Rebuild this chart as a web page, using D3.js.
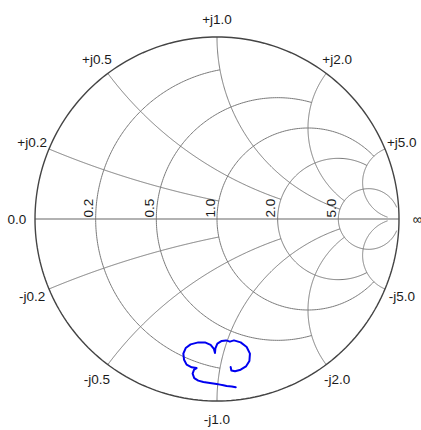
<!DOCTYPE html>
<html>
<head>
<meta charset="utf-8">
<script src="https://cdn.jsdelivr.net/npm/d3@7"></script>
<style>
body { margin: 0; background: #fff; }
svg { display: block; font-family: "Liberation Sans", Arial, sans-serif; }
</style>
</head>
<body>
<svg id="chart"></svg>
<script>
'use strict';

// grid values and the value of the other family where each one is clipped
var gridValues = [0.2, 0.5, 1.0, 2.0, 5.0];
var gridLimits = [1, 2, 5, 5, 30];
var resLabels = ['0.2', '0.5', '1.0', '2.0', '5.0'];
var posLabels = ['+j0.2', '+j0.5', '+j1.0', '+j2.0', '+j5.0'];
var negLabels = ['-j0.2', '-j0.5', '-j1.0', '-j2.0', '-j5.0'];
var axisLabels = ['0.0', '\u221e'];

// measured reflection coefficient (real / imaginary parts)
var gammaRe = [0.103, 0.081, 0.053, 0.035, 0.017, -0.002, -0.039, -0.075, -0.103, -0.125,
    -0.134, -0.126, -0.112, -0.139, -0.167, -0.181, -0.185, -0.172, -0.145, -0.103,
    -0.066, -0.035, -0.017, -0.011, -0.009, 0.002, 0.026, 0.050, 0.071, 0.093,
    0.130, 0.163, 0.181, 0.178, 0.159, 0.130, 0.099, 0.079, 0.075];
var gammaIm = [-0.925, -0.920, -0.918, -0.914, -0.910, -0.907, -0.901, -0.896, -0.888, -0.874,
    -0.850, -0.828, -0.819, -0.815, -0.800, -0.773, -0.740, -0.709, -0.689, -0.678,
    -0.678, -0.692, -0.714, -0.736, -0.711, -0.685, -0.670, -0.667, -0.674, -0.667,
    -0.678, -0.703, -0.740, -0.780, -0.810, -0.828, -0.837, -0.832, -0.813];

function render() {
    var w = 421;
    var h = 430;
    var cx = 217;
    var cy = 219;
    var R = 182;

    var x = d3.scaleLinear().domain([-1, 1]).range([cx - R, cx + R]);
    var y = d3.scaleLinear().domain([-1, 1]).range([cy + R, cy - R]);

    var svg = d3.select('#chart').attr('width', w).attr('height', h);
    var line = d3.line().x(function (d) { return x(d[0]); }).y(function (d) { return y(d[1]); });

    // z = r + jx  ->  gamma = (z - 1) / (z + 1)
    function gamma(r, xv) {
        var den = (r + 1) * (r + 1) + xv * xv;
        return [((r - 1) * (r + 1) + xv * xv) / den, 2 * xv / den];
    }

    function arcPts(c0, c1, rad, a0, a1) {
        return d3.range(0, 1.0001, 1 / 240).map(function (t) {
            var a = a0 + (a1 - a0) * t;
            return [c0 + rad * Math.cos(a), c1 + rad * Math.sin(a)];
        });
    }

    var grid = svg.append('g').attr('fill', 'none').attr('stroke', '#7a7a7a').attr('stroke-width', 1);

    // real axis
    grid.append('path').attr('d', line([[-1, 0], [1, 0]])).attr('stroke', '#999').attr('stroke-width', 1.5);

    gridValues.forEach(function (v, i) {
        var lim = gridLimits[i];

        // resistance circle
        var c = v / (v + 1);
        var rho = 1 / (v + 1);
        var g = gamma(v, lim);
        var aL = Math.atan2(g[1], g[0] - c);
        grid.append('path').attr('d', line(arcPts(c, 0, rho, aL, 2 * Math.PI - aL)));

        // reactance arcs, +jx and -jx
        var c1 = 1 / v;
        var gOut = gamma(0, v);
        var gClip = gamma(lim, v);
        var a0 = Math.atan2(gOut[1] - c1, gOut[0] - 1);
        var a1 = Math.atan2(gClip[1] - c1, gClip[0] - 1);
        if (a1 < a0) { a1 += 2 * Math.PI; }
        var pts = arcPts(1, c1, 1 / v, a0, a1);
        grid.append('path').attr('d', line(pts));
        grid.append('path').attr('d', line(pts.map(function (p) { return [p[0], -p[1]]; })));
    });

    // outer circle
    svg.append('path')
        .attr('d', line(arcPts(0, 0, 1, 0, 2 * Math.PI)))
        .attr('fill', 'none')
        .attr('stroke', '#444')
        .attr('stroke-width', 1.4);

    var labels = svg.append('g').attr('fill', '#1a1a1a').attr('font-size', '13.5px');

    // resistance labels along the real axis
    labels.selectAll('.res-label').data(gridValues).enter().append('text')
        .attr('class', 'res-label')
        .attr('transform', function (d) {
            return 'translate(' + (x((d - 1) / (d + 1)) - 2.5) + ',' + (y(0) - 1.5) + ') rotate(-90)';
        })
        .text(function (d, i) { return resLabels[i]; });

    // reactance labels outside the rim
    var lr = 1.1;
    gridValues.forEach(function (v, i) {
        var th = Math.PI - 2 * Math.atan(v);
        [1, -1].forEach(function (s) {
            labels.append('text')
                .attr('x', x(lr * Math.cos(th)))
                .attr('y', y(s * lr * Math.sin(th)))
                .attr('dy', '0.35em')
                .attr('text-anchor', 'middle')
                .text(s > 0 ? posLabels[i] : negLabels[i]);
        });
    });

    labels.selectAll('.axis-label').data([-1, 1]).enter().append('text')
        .attr('class', 'axis-label')
        .attr('x', function (d) { return x(d * lr); })
        .attr('y', y(0))
        .attr('dy', '0.35em')
        .attr('text-anchor', 'middle')
        .text(function (d, i) { return axisLabels[i]; });

    // data trace
    var trace = gammaRe.map(function (re, i) { return [re, gammaIm[i]]; });
    svg.append('path')
        .attr('d', line(trace))
        .attr('fill', 'none')
        .attr('stroke', '#0000f0')
        .attr('stroke-width', 2)
        .attr('stroke-linejoin', 'round')
        .attr('stroke-linecap', 'round');
}

render();
</script>
</body>
</html>
